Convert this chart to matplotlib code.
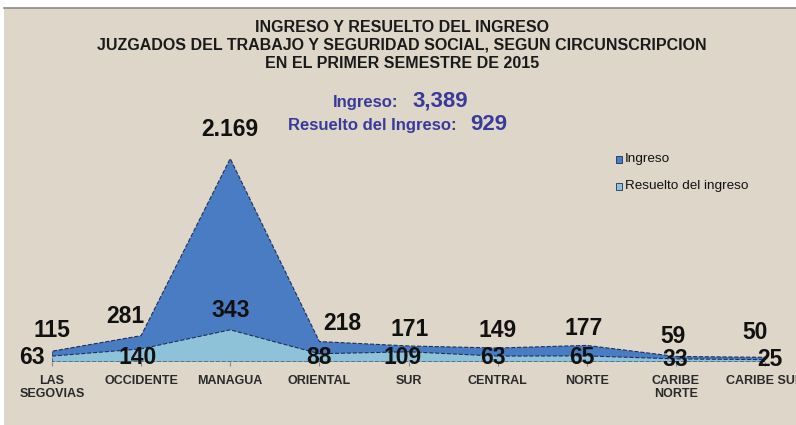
import matplotlib.pyplot as plt
from matplotlib.patches import Rectangle

regiones = ['LAS\nSEGOVIAS', 'OCCIDENTE', 'MANAGUA', 'ORIENTAL', 'SUR',
            'CENTRAL', 'NORTE', 'CARIBE\nNORTE', 'CARIBE SUR']
ingreso = [115, 281, 2169, 218, 171, 149, 177, 59, 50]
resuelto = [63, 140, 343, 88, 109, 63, 65, 33, 25]
etiq_ingreso = ['115', '281', '2.169', '218', '171', '149', '177', '59', '50']

fondo = '#ddd6c9'
azul = '#4a7cc4'
celeste = '#8ec2d8'
morado = '#3a3a9a'

plt.rcParams['font.family'] = ['Liberation Sans', 'DejaVu Sans']

fig = plt.figure(figsize=(7.96, 4.25), dpi=100)
fig.patch.set_facecolor('white')
# marco beige con linea gris arriba
fig.patches.append(Rectangle((0.005, 0), 0.995, 0.982, transform=fig.transFigure,
                             facecolor=fondo, edgecolor='none', zorder=0))
fig.lines.append(plt.Line2D([0.005, 1], [0.982, 0.982], transform=fig.transFigure,
                            color='#8a8a8a', lw=1.2))

ax = fig.add_axes([52 / 796, 63 / 425, 713 / 796, 225 / 425])
ax.set_zorder(2)
ax.set_facecolor('none')
x = list(range(len(regiones)))

ax.fill_between(x, ingreso, color=azul, edgecolor='#1f2f55', lw=0.8, ls='--', zorder=2)
ax.fill_between(x, resuelto, color=celeste, edgecolor='#1f2f55', lw=0.8, ls='--', zorder=3)
ax.axhline(0, color='#7a8a99', lw=1, zorder=4)

ax.set_xlim(0, 8)
ax.set_ylim(0, 2400)
ax.set_xticks(x)
ax.set_xticklabels(regiones, fontsize=9, fontweight='bold', color='#2a2a2a', linespacing=1.05)
ax.tick_params(axis='x', length=3, color='#7a8a99', pad=6.5)
ax.set_yticks([])
for s in ax.spines.values():
    s.set_visible(False)

px = 72 / 100  # pixeles a puntos

# etiquetas de ingreso (desplazamiento en pixeles)
off_ing = [(0, 21), (-16, 19), (0, 29), (23, 18), (1, 16), (0, 18), (-3, 17), (-3, 20), (-10, 25)]
for i, (v, t) in enumerate(zip(ingreso, etiq_ingreso)):
    dx, dy = off_ing[i]
    ax.annotate(t, (i, v), xytext=(dx * px, dy * px), textcoords='offset points', ha='center',
                va='center', fontsize=16.5, fontweight='bold', color='#111111', zorder=6)

# etiquetas de resuelto
off_res = [(-20, 4), (-3, 4), (0, 19), (0, 4), (-6, 4), (-5, 4), (-5, 4), (-1, 2), (5, 3)]
for i, v in enumerate(resuelto):
    dx, dy = off_res[i]
    base = v if i == 2 else 0
    ax.annotate(str(v), (i, base), xytext=(dx * px, dy * px), textcoords='offset points',
                ha='center', va='center', fontsize=16.5, fontweight='bold',
                color='#111111', zorder=6)

# titulo
titulo = ['INGRESO Y RESUELTO DEL INGRESO',
          'JUZGADOS DEL TRABAJO Y SEGURIDAD SOCIAL, SEGUN CIRCUNSCRIPCION',
          'EN EL PRIMER SEMESTRE DE 2015']
for k, t in enumerate(titulo):
    fig.text(0.505, 1 - (27 + 18.5 * k) / 425, t, ha='center', va='center',
             fontsize=11.5, fontweight='bold', color='#1a1a1a')

# totales
fig.text(398 / 796, 1 - 102 / 425, 'Ingreso:', ha='right', va='center',
         fontsize=12, fontweight='bold', color=morado)
fig.text(412 / 796, 1 - 101 / 425, '3,389', ha='left', va='center',
         fontsize=16, fontweight='bold', color=morado)
fig.text(457 / 796, 1 - 126 / 425, 'Resuelto del Ingreso:', ha='right', va='center',
         fontsize=12, fontweight='bold', color=morado)
fig.text(470 / 796, 1 - 125 / 425, '929', ha='left', va='center',
         fontsize=16, fontweight='bold', color=morado)

# leyenda
fig.patches.append(Rectangle((616 / 796, 1 - 163 / 425), 6 / 796, 7 / 425,
                             transform=fig.transFigure, facecolor=azul,
                             edgecolor='#1f2f55', lw=0.6))
fig.text(625 / 796, 1 - 159 / 425, 'Ingreso', ha='left', va='center',
         fontsize=9.7, color='#111111')
fig.patches.append(Rectangle((616 / 796, 1 - 190 / 425), 6 / 796, 7 / 425,
                             transform=fig.transFigure, facecolor=celeste,
                             edgecolor='#1f2f55', lw=0.6))
fig.text(625 / 796, 1 - 186 / 425, 'Resuelto del ingreso', ha='left', va='center',
         fontsize=9.7, color='#111111')

fig.savefig('out.png', dpi=100, facecolor=fig.get_facecolor())
